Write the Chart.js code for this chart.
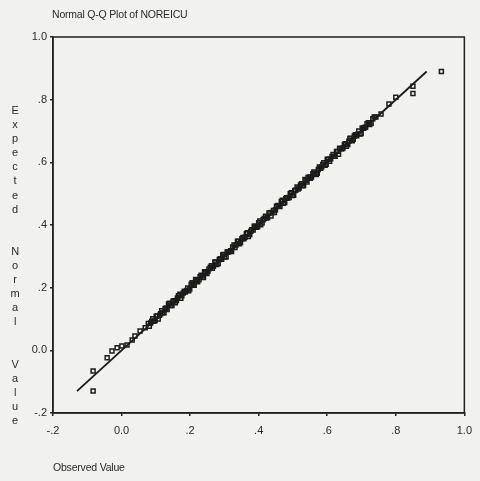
<!DOCTYPE html>
<html>
<head>
  <meta charset="utf-8">
  <title>Normal Q-Q Plot of NOREICU</title>
  <script src="https://cdn.jsdelivr.net/npm/chart.js"></script>
  <style>
    body {
      margin: 0;
      background: #f1f1ef;
      font-family: 'Liberation Sans', Arial, sans-serif;
      color: #2a2a2a;
    }
    #wrap {
      position: relative;
      width: 480px;
      height: 481px;
      background: #f1f1ef;
    }
    #plotTitle, #xTitle, #yTitle {
      position: absolute;
      font-size: 10.5px;
      letter-spacing: -0.2px;
      white-space: nowrap;
    }
    #plotTitle { left: 52px; top: 8px; }
    #xTitle { left: 53px; top: 461px; }
    #yTitle {
      left: 9px;
      top: 103px;
      width: 12px;
      text-align: center;
      line-height: 14.1px;
      font-size: 11px;
    }
  </style>
</head>
<body>
<div id="wrap">
  <canvas id="qqChart" width="480" height="481"></canvas>
  <div id="plotTitle">Normal Q-Q Plot of NOREICU</div>
  <div id="yTitle"></div>
  <div id="xTitle">Observed Value</div>
</div>

<script>
  // axis ticks (SPSS style labels)
  const tickValues = [-0.2, 0.0, 0.2, 0.4, 0.6, 0.8, 1.0];
  const tickLabels = ['-.2', '0.0', '.2', '.4', '.6', '.8', '1.0'];

  const observedValues = [
    -0.083, -0.083, -0.042, -0.028, -0.013, 0.001, 0.016, 0.031, 0.039, 0.054, 0.069,
    0.078, 0.085, 0.091, 0.098, 0.104, 0.111, 0.117, 0.124, 0.130, 0.137,
    0.143, 0.150, 0.157, 0.163, 0.170, 0.176, 0.183, 0.190, 0.196, 0.203,
    0.209, 0.216, 0.222, 0.229, 0.236, 0.242, 0.249, 0.255, 0.262, 0.268,
    0.275, 0.282, 0.288, 0.295, 0.301, 0.308, 0.314, 0.321, 0.328, 0.334,
    0.341, 0.347, 0.354, 0.360, 0.367, 0.374, 0.380, 0.387, 0.393, 0.400,
    0.406, 0.413, 0.420, 0.426, 0.433, 0.439, 0.446, 0.452, 0.459, 0.466,
    0.472, 0.479, 0.485, 0.492, 0.498, 0.505, 0.512, 0.518, 0.525, 0.531,
    0.538, 0.544, 0.551, 0.558, 0.564, 0.571, 0.577, 0.584, 0.590, 0.597,
    0.604, 0.610, 0.617, 0.623, 0.630, 0.636, 0.643, 0.650, 0.656, 0.663,
    0.669, 0.676, 0.682, 0.689, 0.696, 0.702, 0.709, 0.716, 0.724, 0.733, 0.742,
    0.757, 0.780, 0.800, 0.850, 0.850, 0.933
  ];
  const expectedValues = [
    -0.130, -0.066, -0.024, -0.002, 0.008, 0.014, 0.017, 0.033, 0.046, 0.062, 0.072,
    0.086, 0.087, 0.101, 0.095, 0.110, 0.112, 0.126, 0.120, 0.135, 0.148,
    0.143, 0.157, 0.152, 0.167, 0.179, 0.174, 0.189, 0.191, 0.190, 0.211,
    0.211, 0.226, 0.219, 0.235, 0.237, 0.251, 0.245, 0.260, 0.270, 0.268,
    0.282, 0.277, 0.292, 0.304, 0.299, 0.314, 0.315, 0.315, 0.336, 0.336,
    0.348, 0.344, 0.360, 0.361, 0.375, 0.370, 0.385, 0.396, 0.393, 0.407,
    0.401, 0.417, 0.428, 0.424, 0.439, 0.440, 0.440, 0.460, 0.461, 0.475,
    0.469, 0.485, 0.486, 0.500, 0.494, 0.510, 0.521, 0.518, 0.532, 0.526,
    0.542, 0.552, 0.549, 0.564, 0.565, 0.565, 0.585, 0.586, 0.599, 0.594,
    0.610, 0.611, 0.625, 0.619, 0.635, 0.645, 0.643, 0.657, 0.651, 0.667,
    0.677, 0.674, 0.688, 0.690, 0.690, 0.710, 0.711, 0.723, 0.721, 0.739, 0.745,
    0.754, 0.786, 0.808, 0.843, 0.820, 0.890
  ];

  // the dense middle of the sample, where the squares merge into a band
  const observedMid = [
    0.081, 0.088, 0.094, 0.101, 0.107, 0.114, 0.120, 0.127, 0.133, 0.140,
    0.147, 0.153, 0.160, 0.166, 0.173, 0.180, 0.186, 0.193, 0.199, 0.206,
    0.212, 0.219, 0.226, 0.232, 0.239, 0.245, 0.252, 0.259, 0.265, 0.272,
    0.278, 0.285, 0.292, 0.298, 0.305, 0.311, 0.318, 0.324, 0.331, 0.338,
    0.344, 0.351, 0.357, 0.364, 0.370, 0.377, 0.384, 0.390, 0.397, 0.403,
    0.410, 0.416, 0.423, 0.430, 0.436, 0.443, 0.449, 0.456, 0.462, 0.469,
    0.476, 0.482, 0.489, 0.495, 0.502, 0.508, 0.515, 0.522, 0.528, 0.535,
    0.541, 0.548, 0.554, 0.561, 0.568, 0.574, 0.581, 0.587, 0.594, 0.600,
    0.607, 0.614, 0.620, 0.627, 0.633, 0.640, 0.646, 0.653, 0.660, 0.666,
    0.673, 0.679, 0.686, 0.692, 0.699, 0.706, 0.712, 0.720, 0.728, 0.737
  ];
  const expectedMid = [
    0.077, 0.093, 0.093, 0.109, 0.100, 0.117, 0.120, 0.133, 0.130, 0.150,
    0.143, 0.158, 0.159, 0.174, 0.166, 0.183, 0.186, 0.199, 0.196, 0.216,
    0.208, 0.224, 0.225, 0.240, 0.232, 0.248, 0.252, 0.265, 0.262, 0.282,
    0.274, 0.290, 0.291, 0.306, 0.298, 0.314, 0.318, 0.330, 0.328, 0.348,
    0.340, 0.356, 0.356, 0.372, 0.363, 0.380, 0.384, 0.396, 0.394, 0.413,
    0.406, 0.421, 0.422, 0.438, 0.429, 0.446, 0.449, 0.462, 0.459, 0.479,
    0.472, 0.487, 0.488, 0.503, 0.495, 0.511, 0.515, 0.528, 0.525, 0.545,
    0.537, 0.553, 0.553, 0.569, 0.561, 0.577, 0.581, 0.593, 0.591, 0.610,
    0.603, 0.619, 0.619, 0.635, 0.626, 0.643, 0.646, 0.659, 0.657, 0.676,
    0.669, 0.684, 0.685, 0.700, 0.692, 0.709, 0.712, 0.726, 0.725, 0.745
  ];

  // reference line y = x
  const lineX = [-0.13, 0.89];
  const lineY = [-0.13, 0.89];

  const yTitleText = 'Expected Normal Value';

  // stacked vertical axis title, one letter per line
  document.getElementById('yTitle').innerHTML = yTitleText
    .split(' ')
    .map(w => w.split('').join('<br>'))
    .join('<br><br><br>');

  const pointData = observedValues.concat(observedMid).map((x, i) => ({
    x: x,
    y: expectedValues.concat(expectedMid)[i]
  }));
  const lineData = lineX.map((x, i) => ({ x: x, y: lineY[i] }));

  // draws the top and right sides of the frame
  const framePlugin = {
    id: 'frame',
    afterDraw(chart) {
      const a = chart.chartArea;
      const ctx = chart.ctx;
      ctx.save();
      ctx.strokeStyle = '#222';
      ctx.lineWidth = 1.5;
      ctx.strokeRect(a.left, a.top, a.right - a.left, a.bottom - a.top);
      ctx.restore();
    }
  };

  const tickFont = { family: "'Liberation Sans', Arial, sans-serif", size: 11 };

  function axisOptions(sizeKey, size) {
    return {
      type: 'linear',
      min: -0.2,
      max: 1.0,
      afterBuildTicks: (scale) => {
        scale.ticks = tickValues.map(v => ({ value: v }));
      },
      afterFit: (scale) => { scale[sizeKey] = size; },
      ticks: {
        font: tickFont,
        color: '#2a2a2a',
        padding: 3,
        callback: (value) => {
          const i = tickValues.findIndex(v => Math.abs(v - value) < 1e-6);
          return i >= 0 ? tickLabels[i] : '';
        }
      },
      grid: {
        drawOnChartArea: false,
        drawTicks: true,
        tickLength: 3,
        color: '#222',
        lineWidth: 1.5
      },
      border: { display: true, color: '#222', width: 1.5 }
    };
  }

  const xAxis = axisOptions('height', 68);
  xAxis.ticks.padding = 8;
  const yAxis = axisOptions('width', 53);

  new Chart(document.getElementById('qqChart'), {
    type: 'scatter',
    data: {
      datasets: [
        {
          data: pointData,
          pointStyle: 'rect',
          pointRadius: 2.8,
          borderWidth: 1.5,
          borderColor: '#1c1c1c',
          backgroundColor: 'rgba(0,0,0,0)',
          showLine: false
        },
        {
          data: lineData,
          showLine: true,
          pointRadius: 0,
          borderColor: '#1a1a1a',
          borderWidth: 1.8
        }
      ]
    },
    options: {
      responsive: false,
      animation: false,
      layout: { padding: { left: 0, top: 37, right: 14, bottom: 0 } },
      plugins: {
        legend: { display: false },
        tooltip: { enabled: false }
      },
      scales: { x: xAxis, y: yAxis }
    },
    plugins: [framePlugin]
  });
</script>
</body>
</html>
